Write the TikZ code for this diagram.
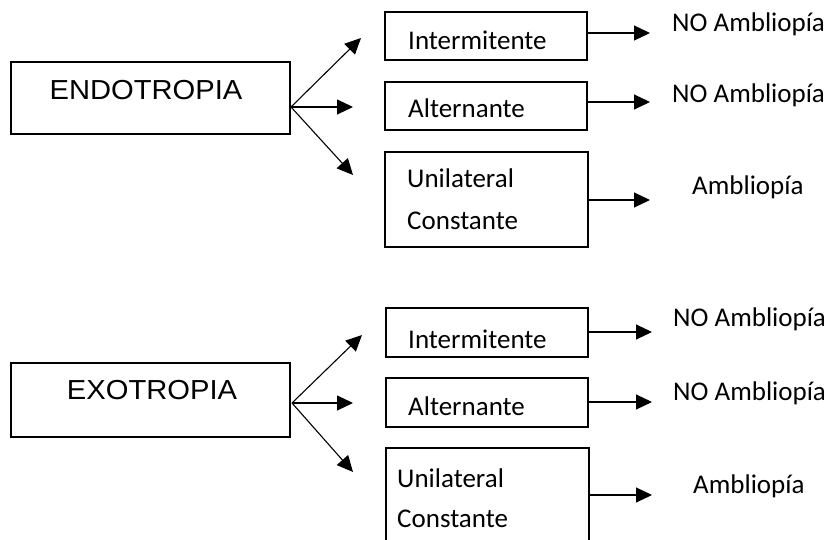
\documentclass[tikz,border=0pt]{standalone}
\usepackage{fontspec}
\setmainfont{Carlito}
\newfontfamily\arialfont[FakeStretch=1.06]{Liberation Sans}
\usetikzlibrary{positioning, arrows.meta}

\begin{document}
\begin{tikzpicture}[x=1bp,y=-1bp,
  box/.style={draw, line width=1.2bp, inner sep=0pt},
  txt/.style={anchor=base west, inner sep=0pt, font=\fontsize{27bp}{32bp}\selectfont},
  big/.style={inner sep=0pt, font=\arialfont\fontsize{27.5bp}{32bp}\selectfont},
  arr/.style={-{Triangle[length=16bp,width=15bp]}, line width=1.1bp}]
\useasboundingbox (0,0) rectangle (831,540);

\node[box, minimum width=279bp, minimum height=72bp] (endo) at (150.5,98) {};
\node[big] (endot) at (146,90) {ENDOTROPIA};
\node[box, minimum width=202bp, minimum height=48bp] (int1) at (486,36) {};
\node[txt] (int1t) at (408,50) {Intermitente};
\node[box, minimum width=202bp, minimum height=48bp] (alt1) at (486,106) {};
\node[txt] (alt1t) at (408,118) {Alternante};
\node[box, minimum width=203bp, minimum height=95bp] (uni1) at (486.5,199.5) {};
\node[txt] (uni1a) at (407,188) {Unilateral};
\node[txt] (uni1b) at (407,230) {Constante};
\node[txt] (res1) at (672,32) {NO Ambliopía};
\node[txt] (res2) at (672,103) {NO Ambliopía};
\node[txt] (res3) at (692,195) {Ambliopía};

\coordinate (endoo) at (291,107);
\coordinate (e1) at (361,38);
\coordinate (e2) at (353,107);
\coordinate (e3) at (353,175);
\draw[arr] (endoo) -- (e1);
\draw[arr] (endoo) -- (e2);
\draw[arr] (endoo) -- (e3);

\coordinate (r1) at (650,33);
\coordinate (r2) at (650,102);
\coordinate (r3) at (650,200);
\draw[arr] (int1.east |- r1) -- (r1);
\draw[arr] (alt1.east |- r2) -- (r2);
\draw[arr] (uni1.east |- r3) -- (r3);

\node[box, minimum width=279bp, minimum height=74bp] (exo) at (150.5,400) {};
\node[big] (exot) at (152,390) {EXOTROPIA};
\node[box, minimum width=202bp, minimum height=49bp] (int2) at (487,332.5) {};
\node[txt] (int2t) at (408,348) {Intermitente};
\node[box, minimum width=202bp, minimum height=49bp] (alt2) at (487,402.5) {};
\node[txt] (alt2t) at (408,415) {Alternante};
\node[box, minimum width=203bp, minimum height=112bp] (uni2) at (487.5,504) {};
\node[txt] (uni2a) at (397,487) {Unilateral};
\node[txt] (uni2b) at (397,527) {Constante};
\node[txt] (res4) at (673,327) {NO Ambliopía};
\node[txt] (res5) at (673,400) {NO Ambliopía};
\node[txt] (res6) at (693,493) {Ambliopía};

\coordinate (exoo) at (292,403);
\coordinate (x1) at (362,335);
\coordinate (x2) at (353,403);
\coordinate (x3) at (353,472);
\draw[arr] (exoo) -- (x1);
\draw[arr] (exoo) -- (x2);
\draw[arr] (exoo) -- (x3);

\coordinate (s1) at (652,332);
\coordinate (s2) at (652,402);
\coordinate (s3) at (652,495);
\draw[arr] (int2.east |- s1) -- (s1);
\draw[arr] (alt2.east |- s2) -- (s2);
\draw[arr] (uni2.east |- s3) -- (s3);
\end{tikzpicture}
\end{document}
